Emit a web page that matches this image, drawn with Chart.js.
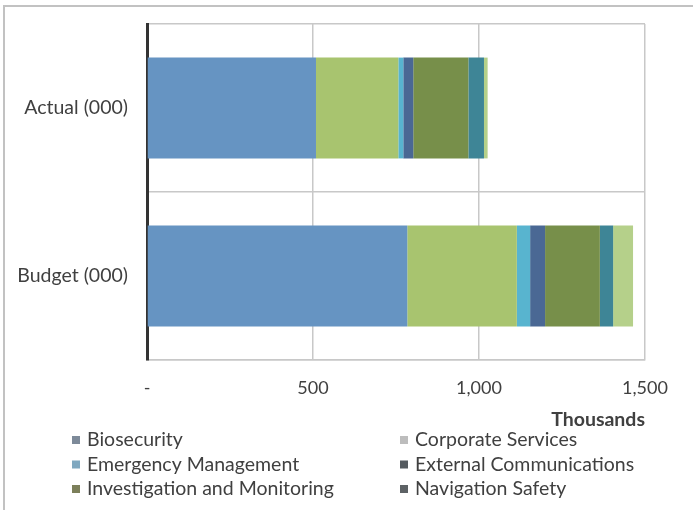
<!DOCTYPE html>
<html>
<head>
<meta charset="utf-8">
<script src="https://cdn.jsdelivr.net/npm/chart.js@4/dist/chart.umd.min.js"></script>
<style>
  html, body { margin: 0; padding: 0; background: #fff; overflow: hidden; }
  #frame { position: absolute; left: 3px; top: 5px; width: 720px; height: 540px; border-style: solid; border-color: #c2c2c2; border-width: 2px 0 0 2px; }
  #wrap { position: absolute; left: 0; top: 0; width: 693px; height: 510px; }
</style>
</head>
<body>
<div id="frame"></div>
<div id="wrap"><canvas id="c"></canvas></div>
<script>
// spending by programme, thousands
const categories = ['Actual (000)', 'Budget (000)'];
const biosecurity = [509, 784];
const corporateServices = [248, 330];
const emergencyManagement = [15, 40];
const externalCommunications = [30, 45];
const investigationMonitoring = [166, 165];
const navigationSafety = [47, 40];
const otherProgrammes = [11, 60];
const xTicks = [0, 500, 1000, 1500];

const FONT = 'Lato, "Open Sans", sans-serif';
const TEXT = '#404040';

function series(label, data, color, swatch) {
  return { label, data, backgroundColor: color, swatch, borderWidth: 0 };
}

// two-column legend drawn under the axis title
const legendGrid = {
  id: 'legendGrid',
  afterDraw(chart, _args, opts) {
    const { ctx } = chart;
    ctx.save();
    ctx.font = opts.font;
    ctx.textBaseline = 'middle';
    ctx.textAlign = 'left';
    chart.data.datasets.forEach((ds, i) => {
      if (i >= opts.maxItems) return;
      const x = opts.columns[i % 2];
      const y = opts.top + Math.floor(i / 2) * opts.rowHeight;
      ctx.fillStyle = ds.swatch;
      ctx.fillRect(x, y - 4, 8, 8);
      ctx.fillStyle = opts.color;
      ctx.fillText(ds.label, x + 15, y);
    });
    ctx.restore();
  },
};

new Chart(document.getElementById('c'), {
  type: 'bar',
  data: {
    labels: categories,
    datasets: [
      series('Biosecurity', biosecurity, '#6694c2', '#7d8a99'),
      series('Corporate Services', corporateServices, '#a8c46f', '#bdbdbd'),
      series('Emergency Management', emergencyManagement, '#58b4cf', '#7fa8c0'),
      series('External Communications', externalCommunications, '#4a6894', '#555b60'),
      series('Investigation and Monitoring', investigationMonitoring, '#778f4a', '#7c7f5a'),
      series('Navigation Safety', navigationSafety, '#3e8596', '#5d6265'),
      series('Other', otherProgrammes, '#b5d08a', '#c8d0b8'),
    ],
  },
  options: {
    indexAxis: 'y',
    responsive: true,
    maintainAspectRatio: false,
    animation: false,
    categoryPercentage: 0.6,
    barPercentage: 1,
    layout: { padding: { left: 0, top: 24, right: 48, bottom: 0 } },
    plugins: {
      legend: { display: false },
      tooltip: { enabled: false },
      legendGrid: {
        font: `19.5px ${FONT}`,
        color: TEXT,
        columns: [72, 400],
        top: 440,
        rowHeight: 24.5,
        maxItems: 6,
      },
    },
    scales: {
      x: {
        stacked: true,
        min: 0,
        max: 1500,
        afterBuildTicks: (s) => { s.ticks = xTicks.map((v) => ({ value: v })); },
        afterFit: (s) => { s.height = 150; },
        grid: { color: '#c8c8c8', lineWidth: 1.5, drawTicks: false },
        border: { color: '#c8c8c8', width: 1.5 },
        ticks: {
          color: TEXT,
          padding: 17,
          font: { family: FONT, size: 18 },
          callback: (v) => (v === 0 ? '-' : v.toLocaleString('en-US')),
        },
        title: {
          display: true,
          text: 'Thousands',
          align: 'end',
          color: TEXT,
          font: { family: FONT, size: 19.5, weight: 'bold' },
          padding: { top: 0, bottom: 79 },
        },
      },
      y: {
        stacked: true,
        afterFit: (s) => {
          s.width = 147;
          // keep the plot top fixed at the layout padding
          s.paddingTop = 0;
          s.paddingBottom = 0;
        },
        grid: { color: '#c8c8c8', lineWidth: 1.5, drawTicks: false, offset: true },
        border: { color: '#333333', width: 3 },
        ticks: { color: TEXT, padding: 19, font: { family: FONT, size: 19.5 } },
      },
    },
  },
  plugins: [legendGrid],
});
</script>
</body>
</html>
